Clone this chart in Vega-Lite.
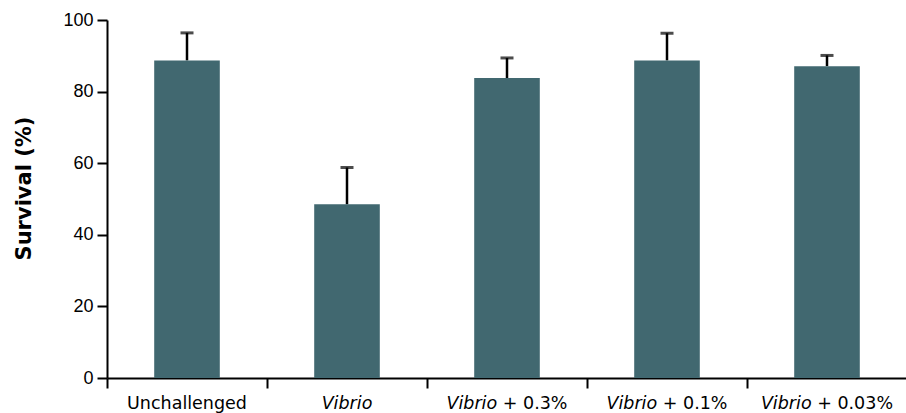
{
  "$schema": "https://vega.github.io/schema/vega-lite/v6.json",
  "autosize": "none",
  "width": 800,
  "height": 358,
  "padding": {"left": 107, "top": 20, "right": 0, "bottom": 35},
  "background": "white",
  "config": {"view": {"stroke": null}, "axis": {"grid": false}},
  "data": {
    "values": [
      {"group": "Unchallenged", "survival": 88.7, "upper": 96.4, "italic": "", "plain": "Unchallenged", "kind": "plain"},
      {"group": "Vibrio", "survival": 48.5, "upper": 58.8, "italic": "Vibrio", "plain": "", "kind": "italic"},
      {"group": "Vibrio + 0.3%", "survival": 83.8, "upper": 89.4, "italic": "Vibrio", "plain": "+ 0.3%", "kind": "mixed"},
      {"group": "Vibrio + 0.1%", "survival": 88.7, "upper": 96.3, "italic": "Vibrio", "plain": "+ 0.1%", "kind": "mixed"},
      {"group": "Vibrio + 0.03%", "survival": 87.1, "upper": 90.1, "italic": "Vibrio", "plain": "+ 0.03%", "kind": "mixed2"}
    ]
  },
  "encoding": {
    "x": {
      "field": "group",
      "type": "nominal",
      "sort": null,
      "scale": {"paddingInner": 0, "paddingOuter": 0},
      "axis": {
        "title": null,
        "labels": false,
        "bandPosition": 0,
        "tickSize": 10,
        "tickWidth": 2,
        "tickColor": "black",
        "domainColor": "black",
        "domainWidth": 2
      }
    }
  },
  "layer": [
    {
      "mark": {"type": "rule", "color": "black", "strokeWidth": 2.5},
      "encoding": {
        "y": {"field": "survival", "type": "quantitative"},
        "y2": {"field": "upper"}
      }
    },
    {
      "mark": {"type": "tick", "color": "black", "size": 13, "thickness": 3, "orient": "horizontal"},
      "encoding": {
        "y": {"field": "upper", "type": "quantitative"}
      }
    },
    {
      "mark": {"type": "bar", "color": "#416870", "width": {"band": 0.41}},
      "encoding": {
        "y": {
          "field": "survival",
          "type": "quantitative",
          "scale": {"domain": [0, 100], "nice": false},
          "axis": {
            "title": "Survival (%)",
            "values": [0, 20, 40, 60, 80, 100],
            "tickSize": 10,
            "tickWidth": 2,
            "tickColor": "black",
            "domainColor": "black",
            "domainWidth": 2,
            "labelFont": "Liberation Sans",
            "labelFontSize": 18,
            "labelColor": "black",
            "labelPadding": 4,
            "titleFont": "DejaVu Sans",
            "titleFontSize": 21,
            "titleFontWeight": "bold",
            "titleColor": "black",
            "titleAngle": -90,
            "titleX": -83,
            "titleY": 168,
            "titleAlign": "center",
            "titleBaseline": "middle"
          }
        }
      }
    },
    {
      "transform": [{"filter": "datum.kind === 'plain'"}],
      "mark": {"type": "text", "font": "DejaVu Sans", "fontSize": 17.5, "align": "center", "baseline": "alphabetic", "dy": 31, "color": "black"},
      "encoding": {"y": {"datum": 0}, "text": {"field": "plain"}}
    },
    {
      "transform": [{"filter": "datum.kind === 'italic'"}],
      "mark": {"type": "text", "font": "DejaVu Sans", "fontSize": 17.5, "fontStyle": "italic", "align": "center", "baseline": "alphabetic", "dy": 31, "color": "black"},
      "encoding": {"y": {"datum": 0}, "text": {"field": "italic"}}
    },
    {
      "transform": [{"filter": "datum.kind === 'mixed'"}],
      "mark": {"type": "text", "font": "DejaVu Sans", "fontSize": 17.5, "fontStyle": "italic", "align": "right", "baseline": "alphabetic", "dx": -9.8, "dy": 31, "color": "black"},
      "encoding": {"y": {"datum": 0}, "text": {"field": "italic"}}
    },
    {
      "transform": [{"filter": "datum.kind === 'mixed'"}],
      "mark": {"type": "text", "font": "DejaVu Sans", "fontSize": 17.5, "align": "left", "baseline": "alphabetic", "dx": -4.2, "dy": 31, "color": "black"},
      "encoding": {"y": {"datum": 0}, "text": {"field": "plain"}}
    },
    {
      "transform": [{"filter": "datum.kind === 'mixed2'"}],
      "mark": {"type": "text", "font": "DejaVu Sans", "fontSize": 17.5, "fontStyle": "italic", "align": "right", "baseline": "alphabetic", "dx": -15.4, "dy": 31, "color": "black"},
      "encoding": {"y": {"datum": 0}, "text": {"field": "italic"}}
    },
    {
      "transform": [{"filter": "datum.kind === 'mixed2'"}],
      "mark": {"type": "text", "font": "DejaVu Sans", "fontSize": 17.5, "align": "left", "baseline": "alphabetic", "dx": -9.8, "dy": 31, "color": "black"},
      "encoding": {"y": {"datum": 0}, "text": {"field": "plain"}}
    }
  ]
}
